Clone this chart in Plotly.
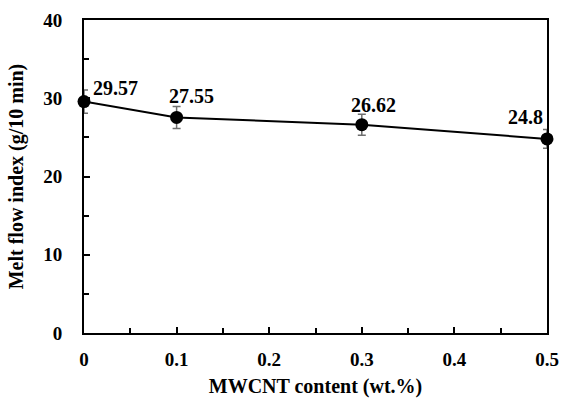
import plotly.graph_objects as go

# MWCNT loading (wt.%) and melt flow index (g/10 min)
mwcnt_content = [0, 0.1, 0.3, 0.5]
melt_flow_index = [29.57, 27.55, 26.62, 24.8]
mfi_error = [1.5, 1.4, 1.35, 1.2]

x_ticks = [0, 0.1, 0.2, 0.3, 0.4, 0.5]
x_tick_labels = ["0", "0.1", "0.2", "0.3", "0.4", "0.5"]
y_ticks = [0, 10, 20, 30, 40]
y_tick_labels = ["0", "10", "20", "30", "40"]

# pixel offsets of each value label from its marker
label_dx = [31, 15, 12, -22]
label_dy = [14, 21, 20, 22]

FONT = "Liberation Serif"

fig = go.Figure()
fig.add_trace(go.Scatter(
    x=mwcnt_content,
    y=melt_flow_index,
    mode="lines+markers",
    line=dict(color="black", width=2),
    marker=dict(color="black", size=13),
    error_y=dict(type="data", array=mfi_error, visible=True,
                 color="#6e6e6e", thickness=1.5, width=4),
    cliponaxis=False,
    showlegend=False,
))

for x, y, dx, dy in zip(mwcnt_content, melt_flow_index, label_dx, label_dy):
    fig.add_annotation(
        x=x, y=y, text=f"<b>{y:g}</b>", showarrow=False,
        xshift=dx, yshift=dy,
        font=dict(family=FONT, size=20, color="black"),
    )

axis_common = dict(
    showline=True, linecolor="black", linewidth=2, mirror=True,
    ticks="inside", ticklen=6, tickwidth=2, tickcolor="black",
    showgrid=False, zeroline=False, automargin=False,
    tickfont=dict(family=FONT, size=19, color="black", weight="bold"),
)

fig.update_layout(
    width=561, height=399,
    margin=dict(l=84, r=14, t=20, b=66),
    paper_bgcolor="white", plot_bgcolor="white",
    xaxis=dict(
        range=[0, 0.5], tickvals=x_ticks, ticktext=x_tick_labels,
        minor=dict(dtick=0.05, ticks="inside", ticklen=5, tickwidth=1.5,
                   tickcolor="black"),
        title=dict(text="MWCNT content (wt.%)", standoff=10,
                   font=dict(family=FONT, size=20, color="black", weight="bold")),
        ticklabelstandoff=8,
        **axis_common,
    ),
    yaxis=dict(
        range=[0, 40], tickvals=y_ticks, ticktext=y_tick_labels,
        minor=dict(dtick=5, ticks="inside", ticklen=5, tickwidth=1.5,
                   tickcolor="black"),
        title=dict(text="Melt flow index (g/10 min)", standoff=14,
                   font=dict(family=FONT, size=20, color="black", weight="bold")),
        ticklabelstandoff=16,
        **axis_common,
    ),
)

fig.write_html("out.html")
